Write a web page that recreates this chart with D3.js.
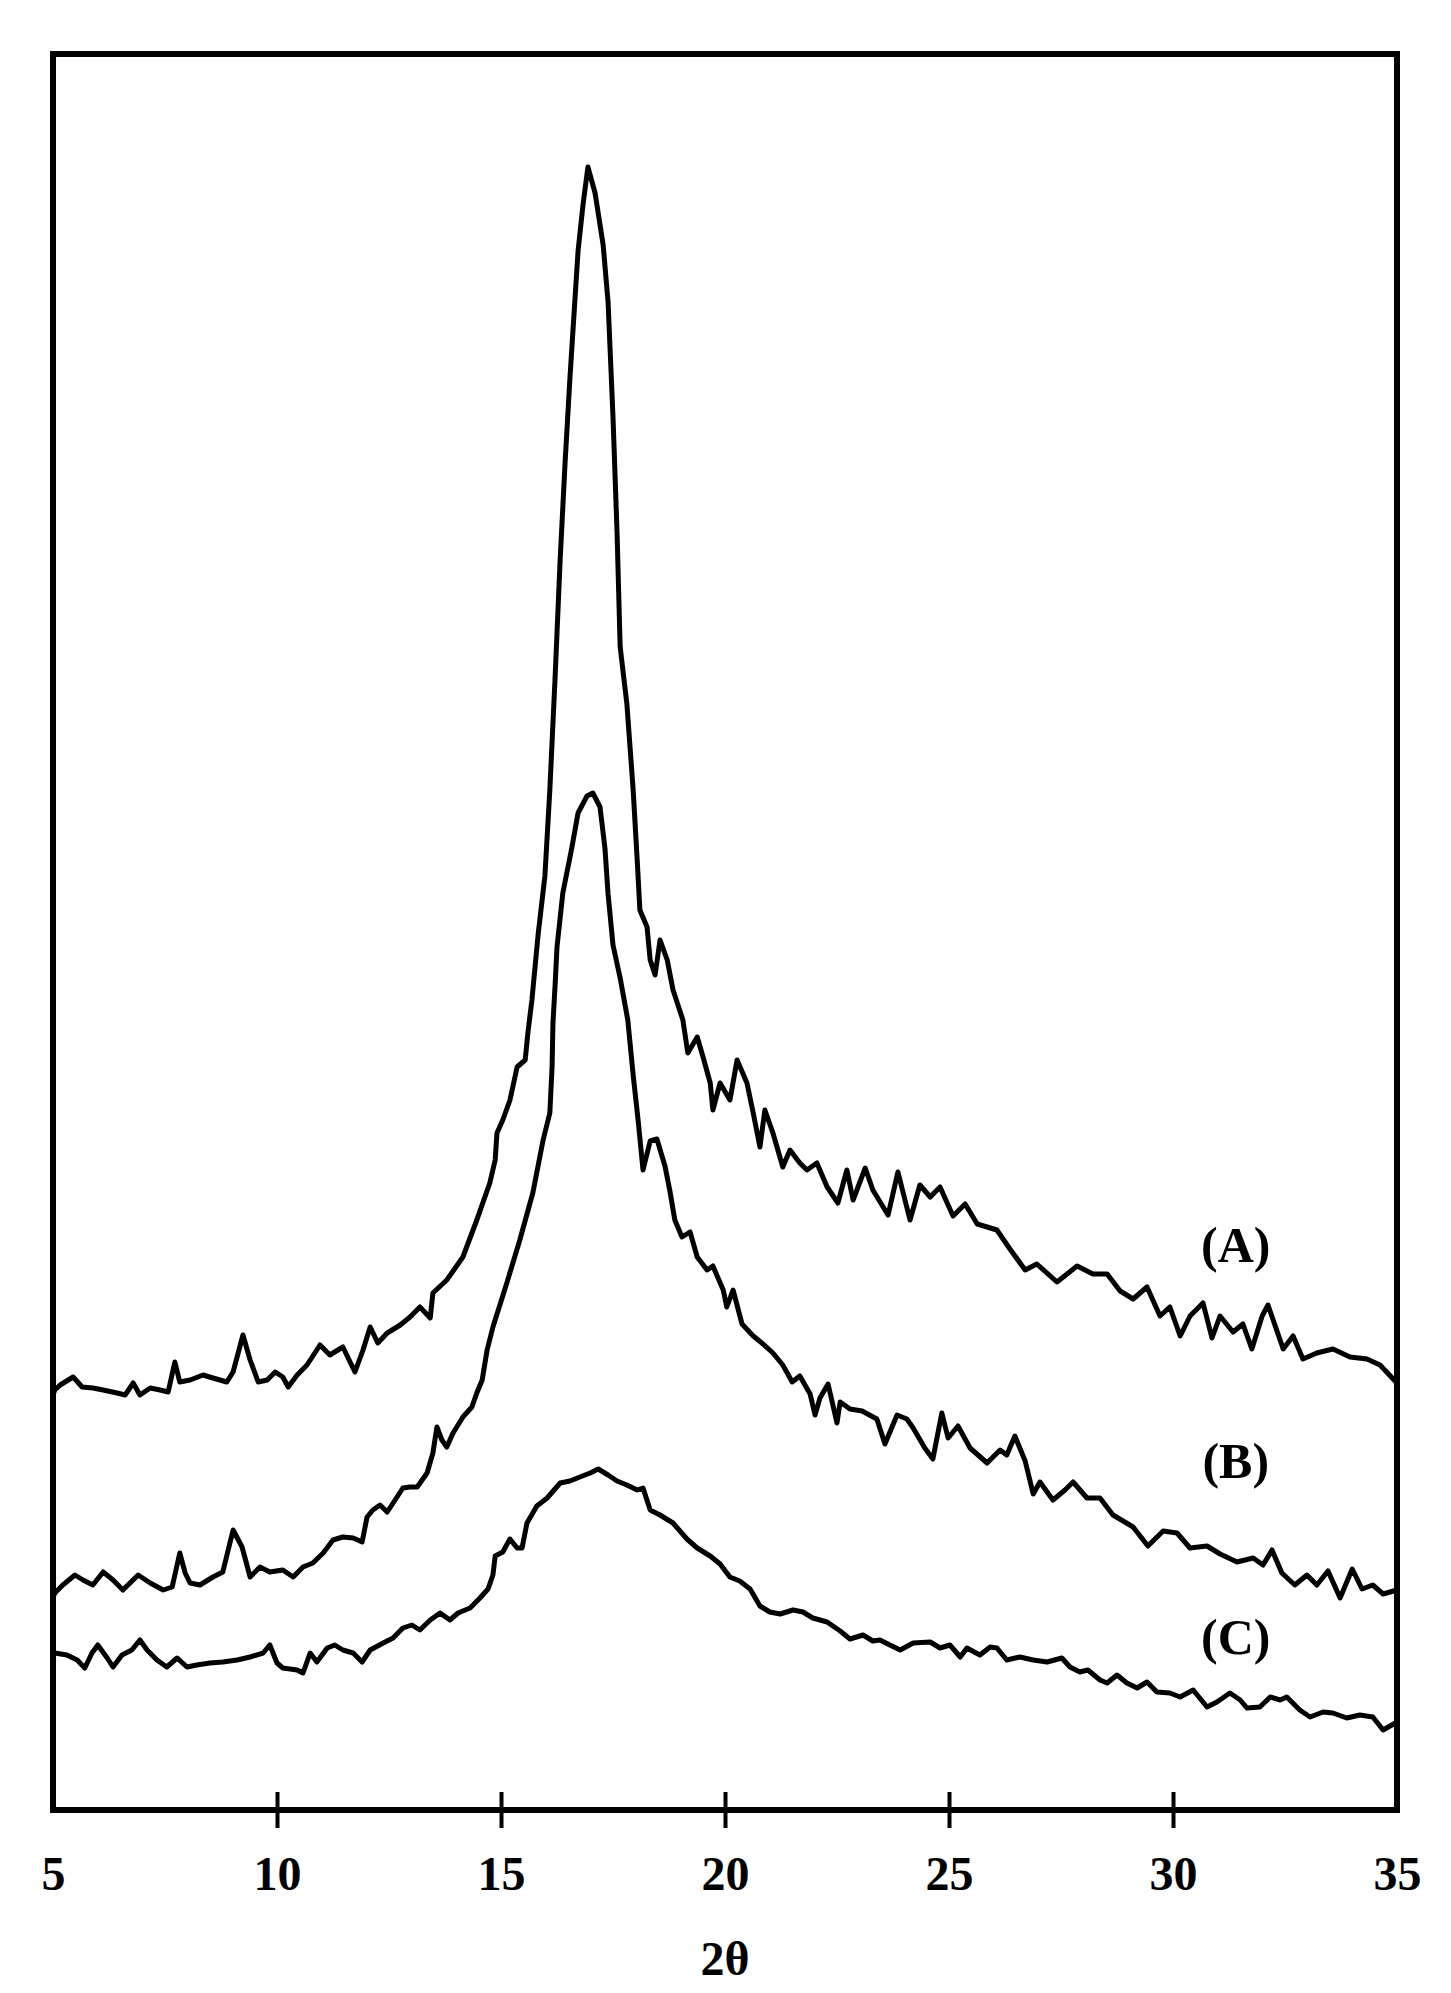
<!DOCTYPE html>
<html>
<head>
<meta charset="utf-8">
<script src="https://cdn.jsdelivr.net/npm/d3@7"></script>
<style>
  html, body { margin: 0; padding: 0; background: #ffffff; }
  svg { display: block; }
</style>
</head>
<body>
<svg id="chart" width="1451" height="1993"></svg>
<script>
// ---------------- DATA (2θ in degrees, intensity in arbitrary units) ----------------
const twoThetaA = [5.00,5.04,5.16,5.45,5.65,5.89,6.12,6.43,6.61,6.79,6.94,7.17,7.39,7.57,7.72,7.83,8.06,8.35,8.57,8.88,9.02,9.24,9.40,9.58,9.78,9.96,10.13,10.25,10.45,10.67,10.96,11.18,11.47,11.74,11.92,12.08,12.25,12.46,12.75,12.97,13.19,13.42,13.48,13.79,14.15,14.46,14.75,14.87,14.91,15.04,15.20,15.36,15.54,15.60,15.69,15.76,15.83,15.98,16.09,16.21,16.32,16.43,16.54,16.72,16.83,16.94,17.10,17.28,17.39,17.50,17.59,17.66,17.81,17.95,18.04,18.10,18.26,18.33,18.44,18.55,18.71,18.84,19.06,19.17,19.38,19.51,19.67,19.73,19.89,20.11,20.27,20.49,20.63,20.78,20.89,21.07,21.29,21.45,21.67,21.83,22.05,22.28,22.52,22.72,22.86,23.13,23.30,23.64,23.86,24.13,24.35,24.58,24.80,25.09,25.36,25.63,26.07,26.36,26.70,26.96,27.41,27.86,28.21,28.53,28.82,29.11,29.42,29.71,29.93,30.16,30.38,30.67,30.87,31.05,31.34,31.56,31.76,31.99,32.12,32.46,32.68,32.90,33.21,33.57,33.95,34.33,34.62,35.00];
const intensityA = [415,420,425,433,423,422,420,417,415,427,415,422,420,418,448,428,430,435,432,428,438,475,450,428,430,438,433,423,435,445,465,455,463,438,460,483,467,477,485,493,503,492,517,530,553,590,627,650,677,690,710,743,750,777,810,843,876,934,1020,1135,1250,1347,1433,1559,1605,1643,1617,1565,1508,1393,1278,1163,1106,1020,950,900,883,850,835,870,850,820,790,757,773,753,727,700,727,710,750,727,697,663,700,677,643,660,647,640,647,623,607,640,610,642,620,595,638,590,625,613,623,594,606,586,580,561,540,546,528,544,536,536,519,511,523,494,503,474,494,507,472,494,478,486,461,494,505,461,474,451,457,461,453,451,445,427];

const twoThetaB = [5.00,5.04,5.22,5.49,5.67,5.89,6.12,6.34,6.56,6.90,7.17,7.46,7.66,7.83,7.95,8.06,8.28,8.57,8.79,9.02,9.22,9.40,9.62,9.84,10.13,10.36,10.58,10.80,11.03,11.25,11.47,11.70,11.90,12.01,12.14,12.30,12.46,12.68,12.81,12.97,13.13,13.35,13.48,13.57,13.68,13.79,13.93,14.15,14.35,14.46,14.58,14.69,14.82,15.13,15.42,15.71,15.94,16.09,16.14,16.16,16.21,16.25,16.38,16.58,16.72,16.92,17.05,17.21,17.32,17.39,17.50,17.66,17.83,17.95,18.06,18.17,18.33,18.48,18.66,18.77,18.88,19.04,19.22,19.38,19.60,19.73,19.96,20.04,20.18,20.38,20.63,20.85,21.07,21.29,21.50,21.67,21.90,22.01,22.12,22.30,22.50,22.57,22.79,23.06,23.39,23.57,23.84,24.06,24.20,24.46,24.64,24.84,24.98,25.20,25.47,25.85,26.14,26.29,26.47,26.70,26.88,27.03,27.32,27.59,27.77,28.08,28.37,28.66,29.11,29.44,29.78,30.09,30.38,30.76,31.05,31.43,31.79,32.01,32.21,32.43,32.72,32.99,33.21,33.46,33.73,34.00,34.22,34.46,34.69,35.00];
const intensityB = [212,217,225,235,230,225,238,230,220,235,227,220,223,257,237,227,225,233,238,280,263,233,243,238,240,233,243,247,257,270,273,272,268,293,300,305,298,313,322,323,323,337,357,383,370,363,377,393,403,417,430,460,483,527,570,617,670,697,743,787,827,863,917,962,997,1014,1017,1003,962,916,865,832,790,735,690,640,669,671,644,619,590,573,578,553,540,544,520,503,520,486,474,466,457,445,428,434,416,395,412,426,387,408,401,399,391,366,395,391,382,362,351,397,372,384,362,347,360,355,374,349,316,328,310,320,328,312,312,295,283,264,279,277,262,264,256,248,252,245,260,237,225,235,225,239,212,241,221,225,216,220];

const twoThetaC = [5.00,5.04,5.31,5.54,5.71,5.87,6.00,6.21,6.34,6.54,6.76,6.94,7.10,7.32,7.54,7.77,7.99,8.21,8.50,8.79,9.11,9.40,9.69,9.84,10.00,10.13,10.45,10.58,10.74,10.89,11.12,11.29,11.47,11.70,11.90,12.08,12.37,12.59,12.81,13.01,13.19,13.42,13.64,13.86,14.04,14.31,14.53,14.71,14.82,14.87,15.04,15.20,15.36,15.47,15.58,15.80,16.03,16.32,16.54,16.76,16.99,17.17,17.39,17.59,17.81,18.04,18.17,18.33,18.55,18.84,19.15,19.38,19.67,19.89,20.11,20.33,20.56,20.78,21.00,21.23,21.52,21.74,21.96,22.28,22.57,22.79,23.08,23.30,23.46,23.68,23.91,24.20,24.58,24.80,25.02,25.25,25.40,25.69,25.92,26.07,26.29,26.58,26.88,27.19,27.52,27.70,27.92,28.10,28.37,28.53,28.75,28.97,29.20,29.42,29.64,29.93,30.16,30.45,30.76,30.98,31.27,31.50,31.65,31.94,32.17,32.39,32.54,32.83,33.06,33.35,33.57,33.88,34.17,34.46,34.69,35.00];
const intensityC = [155,157,155,150,142,157,165,152,143,155,160,170,160,150,143,152,143,145,147,148,150,153,157,165,147,142,140,137,157,148,162,165,160,157,148,160,167,172,182,185,180,190,197,190,197,202,212,221,235,254,258,271,262,262,287,304,312,327,329,333,337,341,335,329,325,320,322,300,295,287,271,262,254,246,233,229,221,204,198,196,200,198,192,188,179,171,175,169,170,165,160,167,168,162,165,153,162,155,163,162,150,153,150,148,152,143,138,140,130,127,135,127,122,128,118,117,113,120,103,108,117,110,102,103,113,110,113,100,93,98,97,92,95,93,80,88];

const tickValues = [5, 10, 15, 20, 25, 30, 35];
const seriesNames = ["(A)", "(B)", "(C)"];
const axisTitle = "2θ";

// ---------------- LAYOUT ----------------
const frame = { left: 53, right: 1397, top: 54, bottom: 1810 };
const x = d3.scaleLinear().domain([5, 35]).range([frame.left, frame.right]);
const y = d3.scaleLinear().domain([0, 1756]).range([frame.bottom, frame.top]);

const svg = d3.select("#chart");
svg.append("rect").attr("width", 1451).attr("height", 1993).attr("fill", "#ffffff");

const FONT = "'Liberation Serif', 'Times New Roman', serif";

// series
const series = [
  { name: seriesNames[0], xs: twoThetaA, ys: intensityA },
  { name: seriesNames[1], xs: twoThetaB, ys: intensityB },
  { name: seriesNames[2], xs: twoThetaC, ys: intensityC }
];
const line = d3.line().x(d => x(d[0])).y(d => y(d[1])).curve(d3.curveLinear);

svg.append("g").selectAll("path")
  .data(series)
  .join("path")
  .attr("d", s => line(s.xs.map((v, i) => [v, s.ys[i]])))
  .attr("fill", "none")
  .attr("stroke", "#000")
  .attr("stroke-width", 5)
  .attr("stroke-linejoin", "round")
  .attr("stroke-linecap", "round");

// frame
svg.append("rect")
  .attr("x", frame.left).attr("y", frame.top)
  .attr("width", frame.right - frame.left)
  .attr("height", frame.bottom - frame.top)
  .attr("fill", "none").attr("stroke", "#000").attr("stroke-width", 6);

// x axis
const axis = d3.axisBottom(x).tickValues(tickValues).tickSizeOuter(0).tickSizeInner(18);
const gx = svg.append("g").attr("transform", `translate(0,${frame.bottom})`).call(axis);
gx.select(".domain").remove();
gx.selectAll(".tick line")
  .attr("y1", -18).attr("y2", 18)
  .attr("stroke", "#000").attr("stroke-width", 4)
  .attr("display", d => (d === 5 || d === 35) ? "none" : null);
gx.selectAll(".tick text")
  .attr("y", 80).attr("dy", null)
  .attr("font-family", FONT).attr("font-weight", "bold")
  .attr("font-size", 48).attr("fill", "#000");

// axis title
svg.append("text")
  .attr("x", x(20)).attr("y", 1975)
  .attr("text-anchor", "middle")
  .attr("font-family", FONT).attr("font-weight", "bold").attr("font-size", 48)
  .text(axisTitle);

// series labels
const labelPos = [
  { tx: 31.4, iy: 548 },
  { tx: 31.4, iy: 332 },
  { tx: 31.4, iy: 156 }
];
svg.append("g").selectAll("text")
  .data(series)
  .join("text")
  .attr("x", (s, i) => x(labelPos[i].tx))
  .attr("y", (s, i) => y(labelPos[i].iy))
  .attr("text-anchor", "middle")
  .attr("font-family", FONT).attr("font-weight", "bold").attr("font-size", 50)
  .text(s => s.name);
</script>
</body>
</html>
